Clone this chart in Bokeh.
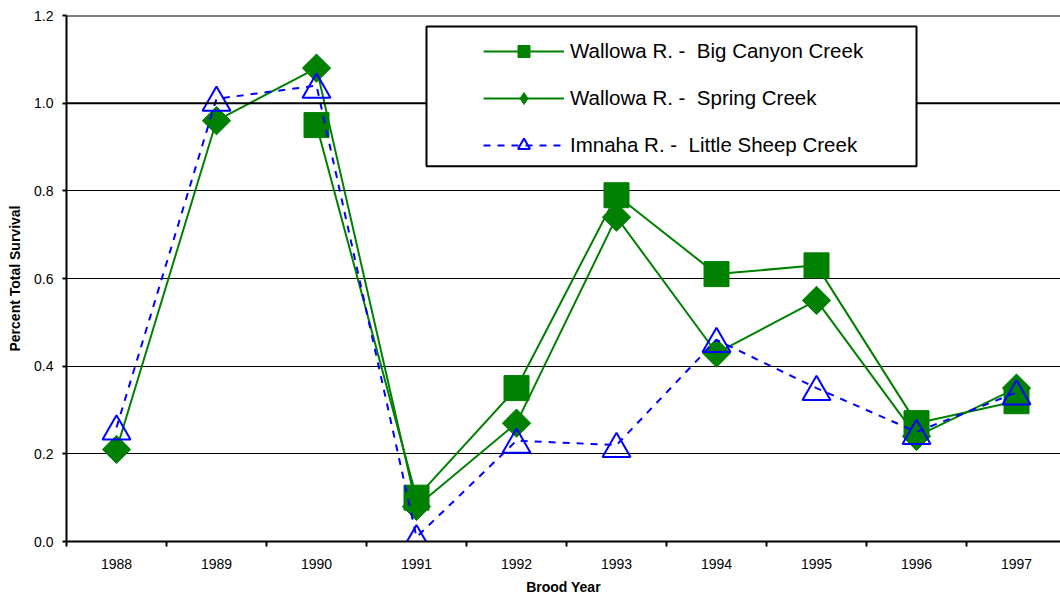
import numpy as np
from bokeh.plotting import figure
from bokeh.models import (Range1d, FixedTicker, Legend, LegendItem, Span,
                          BoxAnnotation, ColumnDataSource)
from bokeh.transform import dodge
from bokeh.embed import file_html
from bokeh.resources import INLINE

# ---- data ----
years = [1988, 1989, 1990, 1991, 1992, 1993, 1994, 1995, 1996, 1997]
big_canyon = [np.nan, np.nan, 0.95, 0.10, 0.35, 0.79, 0.61, 0.63, 0.27, 0.32]
spring_creek = [0.21, 0.96, 1.08, 0.08, 0.27, 0.74, 0.43, 0.55, 0.24, 0.35]
little_sheep = [0.26, 1.01, 1.04, 0.01, 0.23, 0.22, 0.46, 0.35, 0.25, 0.34]
y_ticks = [0.0, 0.2, 0.4, 0.6, 0.8, 1.0, 1.2]
series_names = ["Wallowa R. -  Big Canyon Creek",
                "Wallowa R. -  Spring Creek",
                "Imnaha R. -  Little Sheep Creek"]
x_title = "Brood Year"
y_title = "Percent Total Survival"

src = ColumnDataSource(dict(x=years, bc=big_canyon, sc=spring_creek, ls=little_sheep))

FONT = "Liberation Sans"
GREEN = "#008000"
BLUE = "#0000FF"

p = figure(width=1060, height=597, output_backend="svg", toolbar_location=None,
           x_range=Range1d(years[0] - 0.5, years[-1] + 0.44),
           y_range=Range1d(y_ticks[0], y_ticks[-1]),
           min_border_left=66, min_border_right=0, min_border_top=15,
           min_border_bottom=56)
p.outline_line_color = None
p.background_fill_color = "white"

# grid
p.xgrid.grid_line_color = None
p.ygrid.ticker = FixedTicker(ticks=y_ticks[1:-2])
p.ygrid.grid_line_color = "black"
p.ygrid.grid_line_width = 1
for yv in y_ticks[-2:]:
    p.add_layout(Span(location=yv, dimension="width", line_color="black", line_width=2))

# axes
p.xaxis.ticker = FixedTicker(ticks=years, minor_ticks=[y - 0.5 for y in years] + [years[-1] + 0.5])
p.xaxis.major_label_overrides = {y: str(y) for y in years}
p.xaxis.major_tick_line_color = None
p.xaxis.major_tick_out = 0
p.xaxis.major_tick_in = 0
p.xaxis.minor_tick_line_color = "black"
p.xaxis.minor_tick_line_width = 2
p.xaxis.minor_tick_out = 5
p.xaxis.minor_tick_in = 0
p.xaxis.major_label_standoff = 12

p.yaxis.ticker = FixedTicker(ticks=y_ticks)
p.yaxis.major_label_overrides = {t: f"{t:.1f}" for t in y_ticks}
p.yaxis.major_tick_out = 4
p.yaxis.major_tick_in = 0
p.yaxis.major_tick_line_width = 2
p.yaxis.minor_tick_line_color = None
p.yaxis.major_label_standoff = 9

for ax in (p.xaxis, p.yaxis):
    ax.axis_line_width = 2
    ax.axis_line_color = "black"
    ax.major_label_text_font = FONT
    ax.major_label_text_font_size = "14px"
    ax.major_label_text_color = "black"
    ax.axis_label_text_font = FONT
    ax.axis_label_text_font_size = "14px"
    ax.axis_label_text_font_style = "bold"
    ax.axis_label_text_color = "black"

p.xaxis.axis_label = x_title
p.xaxis.axis_label_standoff = 7
p.yaxis.axis_label = y_title
p.yaxis.axis_label_standoff = 8

# series
l1 = p.line("x", "bc", source=src, line_color=GREEN, line_width=2)
s1 = p.scatter("x", "bc", source=src, marker="square", size=25,
               fill_color=GREEN, line_color=GREEN, line_width=1)
l2 = p.line("x", "sc", source=src, line_color=GREEN, line_width=2)
s2 = p.scatter("x", "sc", source=src, marker="square", angle=np.pi / 4, size=20,
               fill_color=GREEN, line_color=GREEN, line_width=1)
# diamond used only for the legend key
s2_key = p.scatter("x", "sc", source=src, marker="diamond", size=20,
                   fill_color=GREEN, line_color=GREEN, line_width=1, visible=False)
l3 = p.line("x", "ls", source=src, line_color=BLUE, line_width=2, line_dash="7 7")
s3 = p.scatter("x", dodge("ls", -0.009), source=src, marker="triangle", size=28,
               fill_color=None, line_color=BLUE, line_width=2)

# legend frame
box = BoxAnnotation(left=years[0] - 0.5 + 3.60, right=years[0] - 0.5 + 8.50,
                    top=1.175, bottom=0.856,
                    fill_color="white", fill_alpha=1.0,
                    line_color="black", line_alpha=1.0, line_width=2)
p.add_layout(box)

legend = Legend(items=[LegendItem(label=series_names[0], renderers=[l1, s1]),
                       LegendItem(label=series_names[1], renderers=[l2, s2_key]),
                       LegendItem(label=series_names[2], renderers=[l3, s3])],
                location=(417, 381), padding=0, spacing=17, margin=0,
                glyph_width=81, glyph_height=30, label_height=30, label_standoff=6,
                label_text_font=FONT, label_text_font_size="20.5px",
                label_text_color="black", inactive_fill_alpha=0,
                border_line_color=None, background_fill_alpha=0)
p.add_layout(legend)

open("out.html", "w").write(file_html(p, INLINE))
